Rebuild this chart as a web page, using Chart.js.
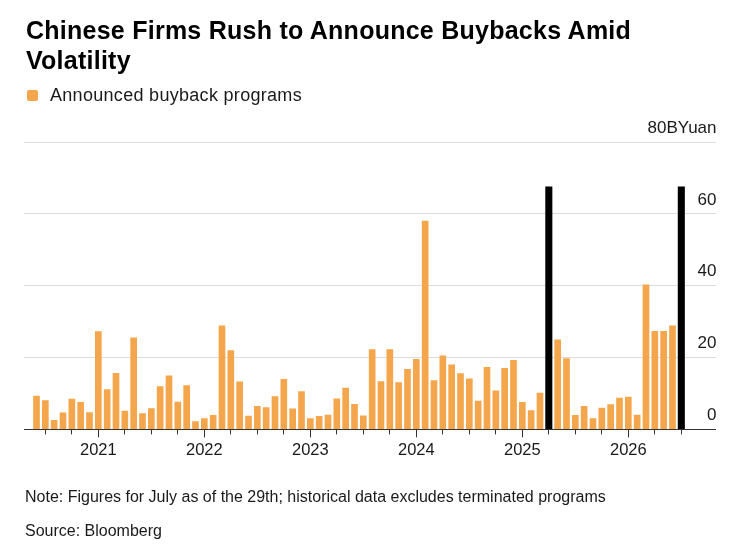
<!DOCTYPE html>
<html>
<head>
<meta charset="utf-8">
<script src="https://cdn.jsdelivr.net/npm/chart.js@4.4.1/dist/chart.umd.min.js"></script>
<style>
  body { margin: 0; background: #fff; font-family: "Liberation Sans", Arial, sans-serif; color: #1a1a1a; }
  .wrap { position: relative; width: 736px; height: 548px; overflow: hidden; }
  .title { position: absolute; left: 26px; top: 14.6px; font-size: 25px; line-height: 30px; font-weight: bold; letter-spacing: 0.25px; color: #000; }
  .legend { position: absolute; left: 27px; top: 84.5px; font-size: 18px; line-height: 20px; letter-spacing: 0.3px; }
  .legend .box { position: absolute; left: 0; top: 5.5px; width: 11px; height: 11px; border-radius: 2px; }
  .legend .txt { position: absolute; left: 23px; top: 0; white-space: nowrap; }
  .note { position: absolute; left: 25px; font-size: 16px; line-height: 20px; white-space: nowrap; }
  .chartbox { position: absolute; left: 0; top: 0; width: 736px; height: 548px; }
</style>
</head>
<body>
<div class="wrap">
  <div class="chartbox"><canvas id="chart"></canvas></div>
  <div class="title">Chinese Firms Rush to Announce Buybacks Amid<br>Volatility</div>
  <div class="legend" id="legend"><span class="box"></span><span class="txt"></span></div>
  <div class="note" style="top:486.8px">Note: Figures for July as of the 29th; historical data excludes terminated programs</div>
  <div class="note" style="top:521.2px">Source: Bloomberg</div>
</div>
<script>
// data

const months = [
  '2020-06','2020-07','2020-08','2020-09','2020-10','2020-11','2020-12',
  '2021-01','2021-02','2021-03','2021-04','2021-05','2021-06','2021-07','2021-08','2021-09','2021-10','2021-11','2021-12',
  '2022-01','2022-02','2022-03','2022-04','2022-05','2022-06','2022-07','2022-08','2022-09','2022-10','2022-11','2022-12',
  '2023-01','2023-02','2023-03','2023-04','2023-05','2023-06','2023-07','2023-08','2023-09','2023-10','2023-11','2023-12',
  '2024-01','2024-02','2024-03','2024-04','2024-05','2024-06','2024-07','2024-08','2024-09','2024-10','2024-11','2024-12',
  '2025-01','2025-02','2025-03','2025-04','2025-05','2025-06','2025-07','2025-08','2025-09','2025-10','2025-11','2025-12',
  '2026-01','2026-02','2026-03','2026-04','2026-05','2026-06','2026-07'
];

// billion yuan, one per month
const buybacks = [
  9.4, 8.1, 2.6, 4.7, 8.5, 7.6, 4.8,
  27.3, 11.2, 15.7, 5.2, 25.6, 4.5, 5.9, 12.0, 15.0, 7.7, 12.3, 2.3,
  3.1, 4.0, 28.9, 22.0, 13.3, 3.8, 6.5, 6.2, 9.2, 14.0, 5.8, 10.6,
  3.1, 3.7, 4.1, 8.6, 11.6, 7.1, 3.9, 22.3, 13.4, 22.3, 13.1, 16.8,
  19.6, 58.1, 13.7, 20.6, 18.1, 15.6, 14.2, 8.0, 17.4, 10.8, 17.1, 19.3,
  7.6, 5.3, 10.2, null, 25.0, 19.8, 4.0, 6.5, 3.1, 6.0, 7.0, 8.8,
  9.1, 4.1, 40.3, 27.4, 27.4, 28.9, null
];

// black marker bars
const markerMonths = ['2025-04', '2026-07'];
const markerValue = 67.6;

const seriesName = 'Announced buyback programs';
const unitLabel = 'BYuan';
const yTicks = [0, 20, 40, 60, 80];
const tickYears = ['2021', '2022', '2023', '2024', '2025', '2026'];
const quarterMonths = ['01', '04', '07', '10'];

const orange = '#f3a64b';
const textColor = '#1a1a1a';

Chart.defaults.font.family = "'Liberation Sans', Arial, sans-serif";
Chart.defaults.color = textColor;

let barData = months.map((m, i) => ({ x: i, y: buybacks[i] }));
let markerData = months.map((m, i) => ({ x: i, y: markerMonths.includes(m) ? markerValue : null }));
let tickIdx = months.map((m, i) => quarterMonths.includes(m.slice(5)) ? i : null).filter(v => v !== null);

function yearOf(i) {
  let m = months[i];
  if (!m || m.slice(5) !== '01') return '';
  let y = m.slice(0, 4);
  return tickYears.includes(y) ? y : '';
}

// html legend from the dataset
const htmlLegend = {
  id: 'htmlLegend',
  afterUpdate(chart) {
    let ds = chart.data.datasets[0];
    let el = document.getElementById('legend');
    el.querySelector('.box').style.background = ds.backgroundColor;
    el.querySelector('.txt').textContent = ds.label;
  }
};

// longer tick marks at the years
const yearTicks = {
  id: 'yearTicks',
  afterDraw(chart) {
    let x = chart.scales.x;
    let ctx = chart.ctx;
    let bottom = chart.chartArea.bottom;
    ctx.save();
    ctx.strokeStyle = '#333';
    ctx.lineWidth = 1;
    tickIdx.forEach(i => {
      if (!yearOf(i)) return;
      let px = Math.round(x.getPixelForValue(i)) + 0.5;
      ctx.beginPath();
      ctx.moveTo(px, bottom);
      ctx.lineTo(px, bottom + 8);
      ctx.stroke();
    });
    ctx.restore();
  }
};

const ctx = document.getElementById('chart').getContext('2d');
const myChart = new Chart(ctx, {
  type: 'bar',
  data: {
    datasets: [{
      label: seriesName,
      data: barData,
      backgroundColor: orange,
      barPercentage: 0.755,
      categoryPercentage: 1,
      grouped: false,
      order: 2
    }, {
      label: 'marker',
      data: markerData,
      backgroundColor: '#000',
      barPercentage: 0.8,
      categoryPercentage: 1,
      grouped: false,
      order: 1
    }]
  },
  options: {
    responsive: true,
    maintainAspectRatio: false,
    animation: false,
    layout: { padding: { top: 142, left: 24, right: 18.5, bottom: 81.8 } },
    plugins: {
      legend: { display: false },
      tooltip: { enabled: false }
    },
    scales: {
      x: {
        type: 'linear',
        min: -1.415,
        max: 76.87,
        offset: false,
        afterBuildTicks: (scale) => { scale.ticks = tickIdx.map(v => ({ value: v })); },
        grid: { offset: false, drawOnChartArea: false, drawTicks: true, tickLength: 5, tickColor: '#333', tickWidth: 1 },
        border: { display: true, color: '#333', width: 1 },
        ticks: {
          autoSkip: false,
          maxRotation: 0,
          padding: 6,
          font: { size: 16.5 },
          color: textColor,
          callback: (v) => yearOf(v)
        }
      },
      y: {
        position: 'right',
        min: yTicks[0],
        max: yTicks[yTicks.length - 1],
        afterBuildTicks: (scale) => { scale.ticks = yTicks.map(v => ({ value: v })); },
        grid: {
          drawTicks: false,
          color: (c) => c.tick && c.tick.value === 0 ? 'rgba(0,0,0,0)' : '#dcdcdc',
          lineWidth: 1
        },
        border: { display: false },
        ticks: {
          mirror: true,
          padding: 1,
          labelOffset: -14,
          font: { size: 17 },
          color: textColor,
          callback: (v) => v === yTicks[yTicks.length - 1] ? v + unitLabel : v
        }
      }
    }
  },
  plugins: [htmlLegend, yearTicks]
});
</script>
</body>
</html>
